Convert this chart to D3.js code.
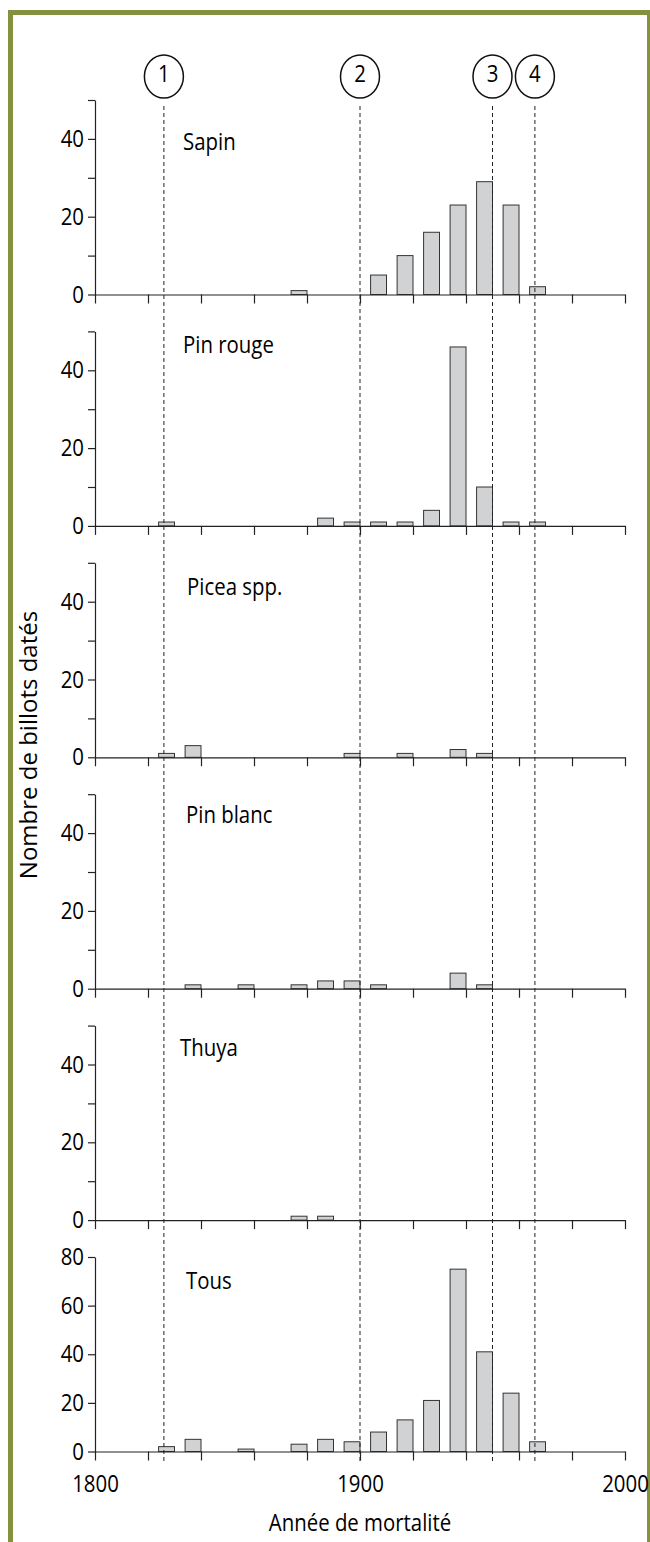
<!DOCTYPE html>
<html>
<head>
<meta charset="utf-8">
<script src="https://cdn.jsdelivr.net/npm/d3@7"></script>
<style>
body { margin: 0; background: #fff; }
svg text { font-family: "Open Sans", sans-serif; fill: #000; }
.cond { transform-box: fill-box; transform-origin: center; transform: scaleX(0.85); }
.condL { transform-box: fill-box; transform-origin: left center; transform: scaleX(0.85); }
.condR { transform-box: fill-box; transform-origin: right center; transform: scaleX(0.85); }
</style>
</head>
<body>
<div id="chart"></div>
<script>
// decade bins (start year) and number of dated logs per species
const bins     = [1820, 1830, 1840, 1850, 1860, 1870, 1880, 1890, 1900, 1910, 1920, 1930, 1940, 1950, 1960];
const sapin    = [0, 0, 0, 0, 0, 1, 0, 0, 5, 10, 16, 23, 29, 23, 2];
const pinRouge = [1, 0, 0, 0, 0, 0, 2, 1, 1, 1, 4, 46, 10, 1, 1];
const picea    = [1, 3, 0, 0, 0, 0, 0, 1, 0, 1, 0, 2, 1, 0, 0];
const pinBlanc = [0, 1, 0, 1, 0, 1, 2, 2, 1, 0, 0, 4, 1, 0, 0];
const thuya    = [0, 0, 0, 0, 0, 1, 1, 0, 0, 0, 0, 0, 0, 0, 0];
const tous     = [2, 5, 0, 1, 0, 3, 5, 4, 8, 13, 21, 75, 41, 24, 4];

const species = ["Sapin", "Pin rouge", "Picea spp.", "Pin blanc", "Thuya", "Tous"];
const counts = [sapin, pinRouge, picea, pinBlanc, thuya, tous];
const yMax = [50, 50, 50, 50, 50, 80];

// disturbance events (dashed lines + numbered circles)
const eventYears = [1826, 1900, 1950, 1966];
const eventLabels = ["1", "2", "3", "4"];

const xTickLabels = [1800, 1900, 2000];

var width = 650, height = 1542;
var frameColor = "#86913f";

const svg = d3.select("#chart")
    .append("svg")
    .attr("width", width)
    .attr("height", height);

// olive frame (top, left, right)
svg.append("rect").attr("x", 8).attr("y", 10).attr("width", 642).attr("height", 5).attr("fill", frameColor);
svg.append("rect").attr("x", 8).attr("y", 10).attr("width", 5).attr("height", height - 10).attr("fill", frameColor);
svg.append("rect").attr("x", 647).attr("y", 10).attr("width", 3).attr("height", height - 10).attr("fill", frameColor);

var xscale = d3.scaleLinear()
    .domain([1800, 2000])
    .range([95, 625]);

// panel layout
var panelStep = 231.4, panelH = 194.5;
var labelDy = [50, 22, 32, 29, 30, 32];
var labelX = [183, 183, 187, 186, 180, 186];

function styleAxis(g, cls) {
    g.selectAll("path, line").attr("stroke", "#222").attr("stroke-width", 1.2);
    g.selectAll("text")
        .attr("font-family", null)
        .attr("class", cls)
        .style("font-size", "24px");
}

species.forEach(function(name, i) {
    var top = 100 + i * panelStep,
        zero = top + panelH,
        last = i == species.length - 1;

    var yscale = d3.scaleLinear()
        .domain([0, yMax[i]])
        .range([zero, top]);

    var g = svg.append("g").attr("class", "panel");

    var data = bins.map(function(b, j) { return {bin: b, n: counts[i][j]}; })
        .filter(function(d) { return d.n > 0; });

    // bars sit in the last 6 years of each decade
    g.selectAll(".bar")
        .data(data)
        .join("rect")
        .attr("class", "bar")
        .attr("x", function(d) { return xscale(d.bin + 4); })
        .attr("width", function(d) { return xscale(d.bin + 10) - xscale(d.bin + 4); })
        .attr("y", function(d) { return yscale(d.n); })
        .attr("height", function(d) { return zero - yscale(d.n); })
        .attr("fill", "#d1d2d4")
        .attr("stroke", "#333")
        .attr("stroke-width", 1);

    // x axis
    var xAxis = d3.axisBottom(xscale)
        .tickValues(d3.range(1800, 2001, 20))
        .tickSize(9)
        .tickSizeOuter(0)
        .tickPadding(14)
        .tickFormat(function(d) { return last && xTickLabels.includes(d) ? d : ""; });
    g.append("g")
        .attr("transform", `translate(0,${zero})`)
        .call(xAxis)
        .call(styleAxis, "cond");

    // y axis
    var yTicks = last ? [0, 20, 40, 60, 80] : d3.range(0, 51, 10);
    var yAxis = d3.axisLeft(yscale)
        .tickValues(yTicks)
        .tickSize(7)
        .tickSizeOuter(0)
        .tickPadding(4)
        .tickFormat(function(d) { return d % 20 == 0 ? d : ""; });
    g.append("g")
        .attr("transform", `translate(${xscale(1800)},0)`)
        .call(yAxis)
        .call(styleAxis, "condR");

    // species label
    g.append("text")
        .attr("class", "condL")
        .attr("x", labelX[i])
        .attr("y", top + labelDy[i])
        .style("font-size", "24px")
        .text(name);
});

// dashed event lines
svg.selectAll(".event")
    .data(eventYears)
    .join("line")
    .attr("class", "event")
    .attr("x1", function(d) { return xscale(d); })
    .attr("x2", function(d) { return xscale(d); })
    .attr("y1", 106)
    .attr("y2", 1461)
    .attr("stroke", "#222")
    .attr("stroke-width", 1)
    .attr("stroke-dasharray", "4,3");

// numbered circles above lines
var marks = svg.selectAll(".mark")
    .data(eventYears)
    .join("g")
    .attr("class", "mark")
    .attr("transform", function(d) { return `translate(${xscale(d)},76.5)`; });
marks.append("ellipse")
    .attr("rx", 19.5)
    .attr("ry", 21.5)
    .attr("fill", "#fff")
    .attr("stroke", "#111")
    .attr("stroke-width", 1.5);
marks.append("text")
    .attr("class", "cond")
    .attr("text-anchor", "middle")
    .attr("y", 5.2)
    .style("font-size", "24px")
    .text(function(d, i) { return eventLabels[i]; });

// axis titles
svg.append("text")
    .attr("class", "cond")
    .attr("text-anchor", "middle")
    .attr("x", (xscale(1800) + xscale(2000)) / 2)
    .attr("y", 1531)
    .style("font-size", "24px")
    .text("Année de mortalité");

svg.append("text")
    .attr("text-anchor", "middle")
    .attr("transform", "translate(36.5,745) rotate(-90)")
    .style("font-size", "24px")
    .text("Nombre de billots datés");
</script>
</body>
</html>
